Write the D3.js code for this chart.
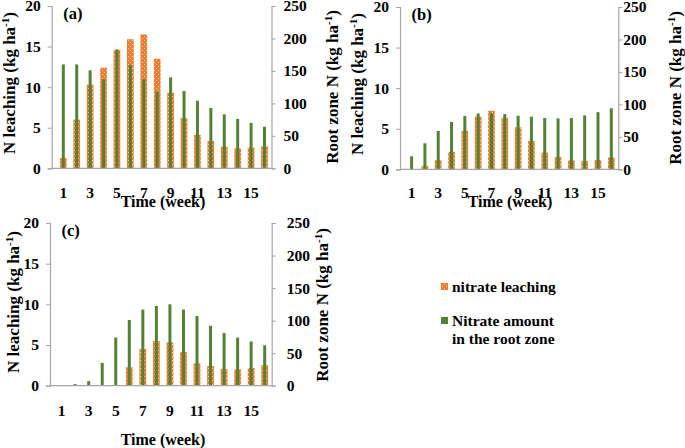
<!DOCTYPE html>
<html><head><meta charset="utf-8">
<script src="https://cdn.jsdelivr.net/npm/d3@7"></script>
<style>body{margin:0;background:#fff}svg{display:block}text{font-family:"Liberation Serif","Times New Roman",serif;font-weight:bold;fill:#000}</style>
</head><body>
<svg id="c" width="685" height="448"></svg>
<script>
const weeks = [1,2,3,4,5,6,7,8,9,10,11,12,13,14,15,16];
const xTickWeeks = [1,3,5,7,9,11,13,15];
const leftTicks = [0,5,10,15,20];
const rightTicks = [0,50,100,150,200,250];
const panelNames = ["(a)","(b)","(c)"];
const leachA = [1.25,6.0,10.3,12.4,14.6,15.9,16.5,13.5,9.3,6.2,4.1,3.35,2.65,2.45,2.55,2.75];
const rootA  = [160,160,151,137,183,159,137,118,140,119,104,93,83,76,70,64];
const leachB = [0,0.45,1.15,2.15,4.72,6.48,7.2,6.35,5.17,3.5,2.05,1.5,1.1,1.03,1.15,1.45];
const rootB  = [20,40,59,73,82,86,86,85,82.5,81,79,78.5,79,83,88,94];
const leachC = [0,0,0,0,0,2.26,4.5,5.49,5.33,4.14,2.75,2.42,2.05,2.0,2.17,2.53];
const rootC  = [0,2.5,7,35,74,101,117,122.5,125,117,107,92,81,74,68,62];
const legendLabels = ["nitrate leaching", ["Nitrate amount","in the root zone"]];
const xTitle = "Time (week)";

const ORANGE = "#ec7c30", GREEN = "#548235", AXIS = "#a6a6a6";
const svg = d3.select("#c");
const defs = svg.append("defs");
const pat = defs.append("pattern").attr("id","dots").attr("patternUnits","userSpaceOnUse")
  .attr("width",4).attr("height",4);
pat.append("rect").attr("width",4).attr("height",4).attr("fill",ORANGE);
pat.append("rect").attr("x",0).attr("y",0).attr("width",1).attr("height",1).attr("fill","#f9d2b0");
pat.append("rect").attr("x",2).attr("y",2).attr("width",1).attr("height",1).attr("fill","#f9d2b0");

const panels = [
  {name:panelNames[0], leach:leachA, root:rootA, left:51.7, right:271.5, top:6, bottom:168.3,
   rlab:12, ltx:8.5, lty:83, rtx:332, rty:87, tx:163, ty:207, xlabY:24},
  {name:panelNames[1], leach:leachB, root:rootB, left:400, right:618.3, top:7, bottom:169.3,
   rlab:5, ltx:356.7, lty:84, rtx:675, rty:88, tx:510, ty:207, xlabY:23.5},
  {name:panelNames[2], leach:leachC, root:rootC, left:50, right:271.7, top:223, bottom:385.7,
   rlab:15, ltx:13.3, lty:302, rtx:322, rty:305, tx:163, ty:445, xlabY:24.5}
];

panels.forEach(p => {
  const g = svg.append("g");
  const step = (p.right - p.left - 11.6 - 7) / 15;
  const x = d3.scaleBand().domain(weeks).range([p.left + 11.6 - step/2, p.left + 11.6 - step/2 + 16*step]).padding(0);
  const yL = d3.scaleLinear().domain([0,20]).range([p.bottom, p.top]);
  const yR = d3.scaleLinear().domain([0,250]).range([p.bottom, p.top]);
  const ow = x.bandwidth()*0.5, gw = 3;

  g.selectAll(".o").data(weeks).join("rect")
    .attr("x", (d,i) => x(d) + x.bandwidth()/2 - ow/2)
    .attr("y", (d,i) => yL(p.leach[i]))
    .attr("width", ow).attr("height", (d,i) => p.bottom - yL(p.leach[i]))
    .attr("fill","url(#dots)");
  g.selectAll(".g").data(weeks).join("rect")
    .attr("x", (d,i) => x(d) + x.bandwidth()/2 - gw/2)
    .attr("y", (d,i) => yR(p.root[i]))
    .attr("width", gw).attr("height", (d,i) => p.bottom - yR(p.root[i]))
    .attr("fill", GREEN);

  g.append("line").attr("x1",p.left).attr("x2",p.right).attr("y1",p.bottom).attr("y2",p.bottom)
    .attr("stroke",AXIS).attr("stroke-width",1.2);

  const la = g.append("g").attr("transform",`translate(${p.left},0)`)
    .call(d3.axisLeft(yL).tickValues(leftTicks).tickSize(4).tickPadding(7).tickFormat(d3.format("d")));
  const ra = g.append("g").attr("transform",`translate(${p.right},0)`)
    .call(d3.axisRight(yR).tickValues(rightTicks).tickSize(4).tickPadding(p.rlab-4).tickFormat(d3.format("d")));
  [la,ra].forEach(a => {
    a.select(".domain").attr("stroke",AXIS).attr("stroke-width",1.2);
    a.selectAll(".tick line").attr("stroke",AXIS);
    a.selectAll("text").style("font-size","15.5px").style("font-family","Liberation Serif").style("font-weight","bold").attr("fill","#000");
  });
  const xa = g.append("g").attr("transform",`translate(0,${p.bottom})`)
    .call(d3.axisBottom(x).tickValues(xTickWeeks).tickSize(0).tickPadding(p.xlabY-5.5));
  xa.select(".domain").remove();
  xa.selectAll("text").style("font-size","15.5px").style("font-family","Liberation Serif").style("font-weight","bold").attr("fill","#000");

  g.append("text").attr("x", p.left + 11.5).attr("y", p.top + 13).style("font-size","16.5px").text(p.name);

  g.append("text").attr("x",p.tx).attr("y",p.ty).attr("text-anchor","middle").style("font-size","16px").text(xTitle);

  const lt = g.append("text").attr("transform",`translate(${p.ltx + 6},${p.lty}) rotate(-90)`)
    .attr("text-anchor","middle").style("font-size","17px");
  lt.append("tspan").text("N leaching (kg ha");
  lt.append("tspan").attr("dy",-6).style("font-size","11px").text("-1");
  lt.append("tspan").attr("dy",6).text(")");
  const rt = g.append("text").attr("transform",`translate(${p.rtx + 6},${p.rty}) rotate(-90)`)
    .attr("text-anchor","middle").style("font-size","17px");
  rt.append("tspan").text("Root zone N (kg ha");
  rt.append("tspan").attr("dy",-6).style("font-size","11px").text("-1");
  rt.append("tspan").attr("dy",6).text(")");
});

const lg = svg.append("g");
lg.append("rect").attr("x",441).attr("y",283).attr("width",7).attr("height",7).attr("fill","url(#dots)");
lg.append("text").attr("x",452).attr("y",292).style("font-size","15.5px").text(legendLabels[0]);
lg.append("rect").attr("x",441).attr("y",317).attr("width",7).attr("height",7).attr("fill",GREEN);
lg.append("text").attr("x",452).attr("y",326).style("font-size","15.5px").text(legendLabels[1][0]);
lg.append("text").attr("x",452).attr("y",344).style("font-size","15.5px").text(legendLabels[1][1]);
</script>
</body></html>
